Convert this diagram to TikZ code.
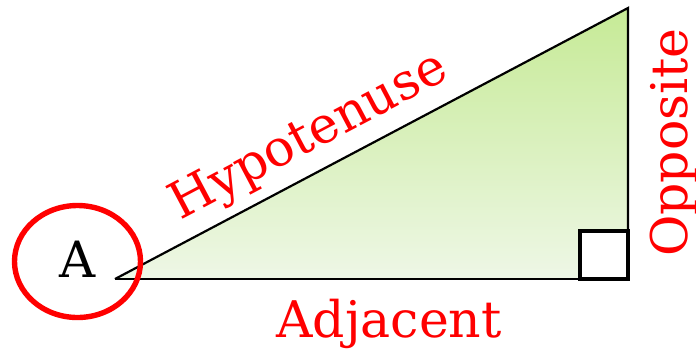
\documentclass[tikz,border=0pt]{standalone}
\usepackage{fontspec}
\usetikzlibrary{shapes.geometric}
\setmainfont{DejaVu Serif}
\definecolor{gtop}{HTML}{C6EA96}
\definecolor{gbot}{HTML}{EEF7E6}
\begin{document}
\begin{tikzpicture}[x=1pt,y=-1pt,
  lbl/.style={text=red,font=\fontsize{50.5}{52}\selectfont,inner sep=0pt},
  edge/.style={draw=black,line width=2.2pt,line join=miter}]
\useasboundingbox (0,0) rectangle (696,349);
\coordinate (L) at (115,279);
\coordinate (T) at (628,8);
\coordinate (R) at (628,279);
\shade[top color=gtop,bottom color=gbot] (L) -- (T) -- (R) -- cycle;
\draw[line width=1.5pt] (R) -- (L);
\draw[edge] (L) -- (T) -- (R);
\draw[line width=3.2pt,fill=white] (580,231) rectangle (628,279);
\node[draw=red,line width=5.4pt,ellipse,minimum width=126pt,minimum height=112pt,inner sep=0pt] (circ) at (77.5,261.5) {};
\node[font=\fontsize{50}{52}\selectfont,inner sep=0pt,anchor=base] (A) at (78,277) {A};
\node[lbl,anchor=base] (adj) at (389,337.5) {Adjacent};
\node[lbl,rotate=90,anchor=base] (opp) at (687,142.5) {Opposite};
\node[lbl,rotate=27.85,anchor=base] (hyp) at (315.5,149.3) {Hypotenuse};
\end{tikzpicture}
\end{document}
